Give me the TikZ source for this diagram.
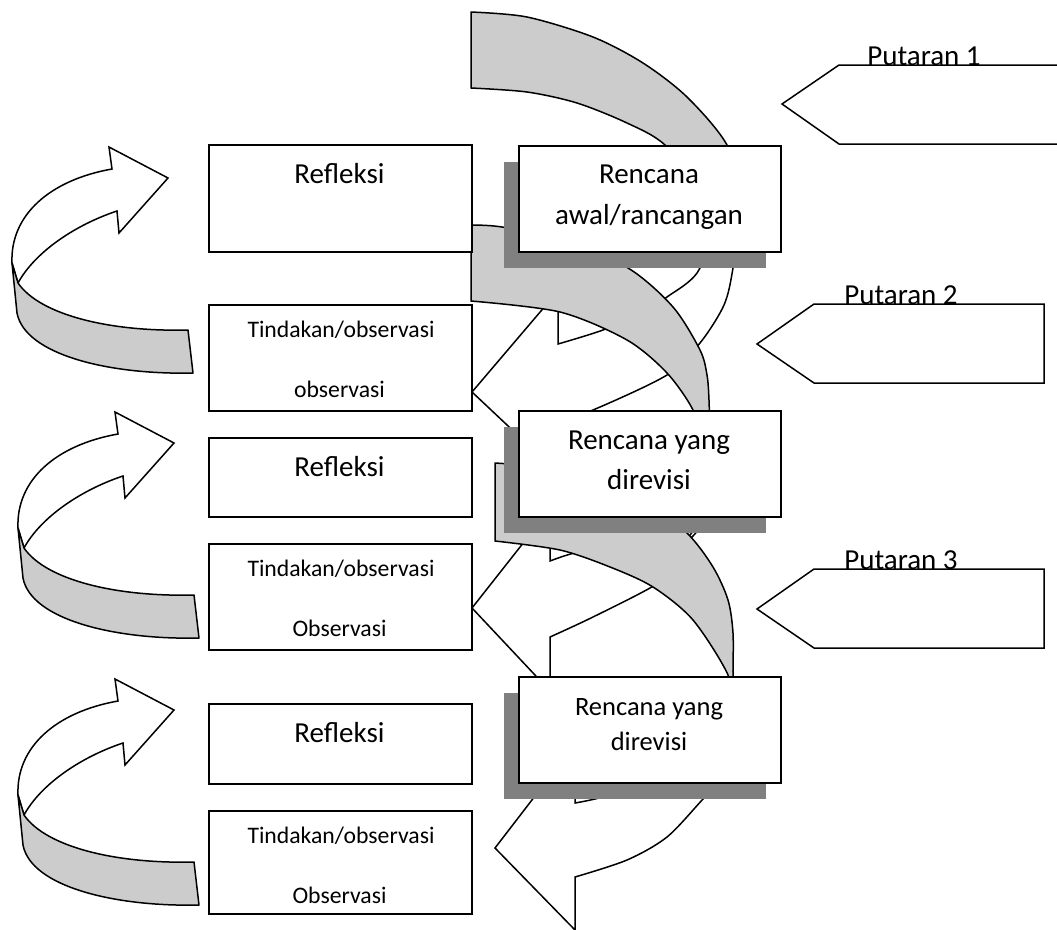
\documentclass[tikz,border=0pt]{standalone}
\usepackage{fontspec}
\setmainfont{Carlito}
\usetikzlibrary{shadows}
\definecolor{bandgray}{RGB}{204,204,204}
\definecolor{shadowgray}{RGB}{128,128,128}
\tikzset{
  box/.style={draw, line width=1.8pt, fill=white, inner sep=0pt, minimum width=263pt, anchor=north west},
  planbox/.style={box, minimum width=262pt, minimum height=106pt,
    drop shadow={shadow xshift=-15pt, shadow yshift=-16pt, fill=shadowgray, opacity=1}},
  band/.style={draw, line width=1.5pt, fill=bandgray, line join=round},
  front/.style={draw, line width=1.5pt, fill=white, line join=miter},
  tag/.style={draw, line width=1.5pt, fill=white},
  big/.style={font=\fontsize{29}{35}\selectfont, anchor=base, inner sep=0pt},
  mid/.style={font=\fontsize{26.5}{32}\selectfont, anchor=base, inner sep=0pt},
  small/.style={font=\fontsize{23.7}{28}\selectfont, anchor=base, inner sep=0pt},
}

\begin{document}
\begin{tikzpicture}[x=1pt, y=-1pt]
        \useasboundingbox (0,0) rectangle (1057,929);

        % left loops
        \foreach \dx/\dy in {0/0, 6/265, 6/532} {
          \begin{scope}[shift={(\dx,\dy)}]
            \filldraw[front] (12,263) .. controls (10,215) and (50,180) .. (112,169)
              -- (109,147) -- (168,178) -- (119,233) -- (117,211)
              .. controls (75,225) and (35,252) .. (18,283) -- cycle;
            \filldraw[band] (12,263) -- (17,313) .. controls (25,355) and (110,375) .. (193,373)
              -- (188,330) .. controls (110,332) and (40,315) .. (18,283) -- cycle;
          \end{scope}
        }

        % middle spiral, first turn
        \filldraw[band] plot[smooth] coordinates {(471,12) (527,17) (593,37) (643,63) (687,97) (727,145) (742,200)}
          -- plot[smooth] coordinates {(712,200) (665,145) (627,123) (577,103) (527,92) (471,88)} -- cycle;
        \filldraw[front] plot[smooth] coordinates {(742,200) (733,268) (724,305) (700,343) (667,375) (593,410) (558,421)}
          -- (558,473) -- (472,392) -- (558,291) -- (558,344)
          -- plot[smooth] coordinates {(558,344) (603,330) (640,313) (667,297) (700,268) (712,200)} -- cycle;

        % middle spiral, second turn
        \filldraw[band] plot[smooth] coordinates {(471,225) (502,227) (560,240) (628,268) (673,307) (700,350) (707,375) (709,400) (710,440)}
          -- plot[smooth] coordinates {(700,440) (693,410) (667,373) (627,340) (560,312) (471,301)} -- cycle;
        \filldraw[front] plot[smooth] coordinates {(722,470) (705,520) (685,545) (672,566) (655,585) (593,617) (550,637)}
          -- (550,691) -- (472,608) -- (550,509) -- (550,561)
          -- plot[smooth] coordinates {(550,561) (578,552) (640,540) (690,535) (712,470)} -- cycle;

        % middle spiral, third turn
        \filldraw[band] plot[smooth] coordinates {(495,463) (560,470) (640,495) (687,533) (713,567) (728,600) (733,633) (733,675) (734,700)}
          -- plot[smooth] coordinates {(726,700) (728,675) (693,620) (653,587) (610,567) (560,550) (495,541)} -- cycle;
        \filldraw[front] plot[smooth] coordinates {(745,730) (730,770) (703,799) (667,837) (627,860) (575,877)}
          -- (575,930) -- (495,848) -- (575,744) -- (575,803)
          -- plot[smooth] coordinates {(575,803) (610,795) (680,770) (730,730)} -- cycle;

        % left column
        \node[box, minimum height=107pt] (refl1) at (208,144) {};
        \node[box, minimum height=106pt] (tind1) at (208,304) {};
        \node[box, minimum height=79pt]  (refl2) at (208,437) {};
        \node[box, minimum height=106pt] (tind2) at (208,543) {};
        \node[box, minimum height=80pt]  (refl3) at (208,703) {};
        \node[box, minimum height=103pt] (tind3) at (208,810) {};

        % plans
        \node[planbox] (plan1) at (518,145) {};
        \node[planbox] (plan2) at (518,410) {};
        \node[planbox] (plan3) at (518,676) {};

        % rounds
        \filldraw[tag] (782,104) -- (839,65) -- (1070,65) -- (1070,144) -- (839,144) -- cycle;
        \filldraw[tag] (757,344) -- (814,304) -- (1044,304) -- (1044,383) -- (814,383) -- cycle;
        \filldraw[tag] (757,609) -- (814,569) -- (1044,569) -- (1044,648) -- (814,648) -- cycle;

        % texts
        \node[big] (refl1-a) at (339.5,183) {Refleksi};
        \node[small] (tind1-a) at (341,337) {Tindakan/observasi};
        \node[small] (tind1-b) at (339.5,397) {observasi};
        \node[big] (refl2-a) at (339.5,476) {Refleksi};
        \node[small] (tind2-a) at (341,576) {Tindakan/observasi};
        \node[small] (tind2-b) at (339.5,636) {Observasi};
        \node[big] (refl3-a) at (339.5,742) {Refleksi};
        \node[small] (tind3-a) at (341,843) {Tindakan/observasi};
        \node[small] (tind3-b) at (339.5,903) {Observasi};

        \node[big] (plan1-a) at (649,183) {Rencana};
        \node[big] (plan1-b) at (649,224) {awal/rancangan};
        \node[big] (plan2-a) at (649,449) {Rencana yang};
        \node[big] (plan2-b) at (649,489) {direvisi};
        \node[mid] (plan3-a) at (649,715) {Rencana yang};
        \node[mid] (plan3-b) at (649,750) {direvisi};

        \node[big] (round1) at (924,65) {Putaran 1};
        \node[big] (round2) at (901,304) {Putaran 2};
        \node[big] (round3) at (901,569) {Putaran 3};
\end{tikzpicture}
\end{document}
